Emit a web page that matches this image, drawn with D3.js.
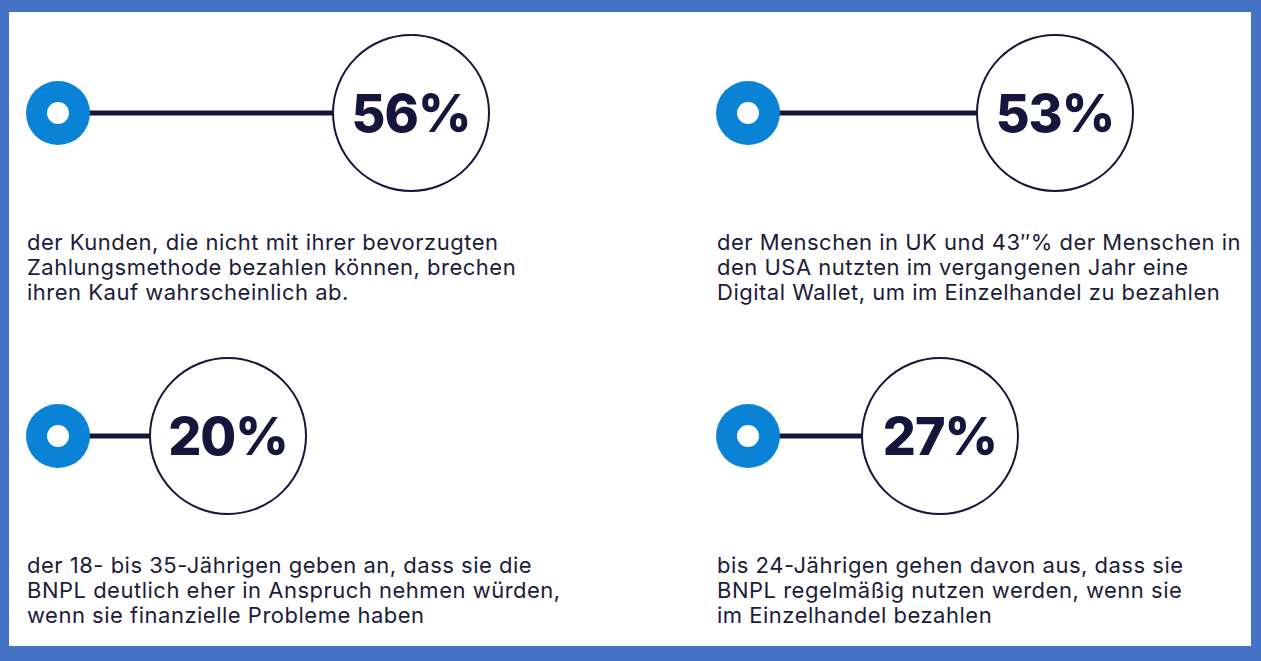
<!DOCTYPE html>
<html>
<head>
<meta charset="utf-8">
<script src="https://cdn.jsdelivr.net/npm/d3@7"></script>
<style>
  html, body { margin: 0; padding: 0; background: #fff; }
  .content { width: 1261px; height: 661px; }
</style>
</head>
<body>
<div class="content"></div>
<script>
// stat values and captions
var values = [56, 53, 20, 27];
var labels = ['56%', '53%', '20%', '27%'];
var captions = [
  ['der Kunden, die nicht mit ihrer bevorzugten', 'Zahlungsmethode bezahlen können, brechen', 'ihren Kauf wahrscheinlich ab.'],
  ['der Menschen in UK und 43″% der Menschen in', 'den USA nutzten im vergangenen Jahr eine', 'Digital Wallet, um im Einzelhandel zu bezahlen'],
  ['der 18- bis 35-Jährigen geben an, dass sie die', 'BNPL deutlich eher in Anspruch nehmen würden,', 'wenn sie finanzielle Probleme haben'],
  ['bis 24-Jährigen gehen davon aus, dass sie', 'BNPL regelmäßig nutzen werden, wenn sie', 'im Einzelhandel bezahlen']
];

var W = 1261, H = 661;
var navy = '#14163c', blue = '#0a82d6';

var svg = d3.select('.content').append('svg')
  .attr('width', W).attr('height', H);

svg.append('rect').attr('width', W).attr('height', H).attr('fill', '#4472c4');
svg.append('rect').attr('x', 9).attr('y', 12).attr('width', W - 19).attr('height', H - 27)
  .attr('fill', '#fff');

// faint background ring
svg.append('clipPath').attr('id', 'inner')
  .append('rect').attr('x', 9).attr('y', 12).attr('width', W - 19).attr('height', H - 27);
var ring = d3.arc().innerRadius(613).outerRadius(928).startAngle(0).endAngle(2 * Math.PI);
svg.append('path').attr('d', ring())
  .attr('transform', 'translate(1500,-250)')
  .attr('fill', '#efeff3')
  .attr('clip-path', 'url(#inner)');

// distance from dot to big circle, by value
var dist = d3.scaleLinear().domain([20, 27, 53, 56]).range([170, 192, 307, 353]);
var colX = d3.scaleOrdinal().domain([0, 1]).range([58, 748]);
var rowY = d3.scaleOrdinal().domain([0, 1]).range([113, 436]);

var g = svg.selectAll('.stat').data(values).enter().append('g')
  .attr('class', 'stat')
  .attr('transform', function(d, i) { return 'translate(' + colX(i % 2) + ',' + rowY(Math.floor(i / 2)) + ')'; });

g.append('line')
  .attr('x1', 0).attr('x2', function(d) { return dist(d); })
  .attr('stroke', navy).attr('stroke-width', 5);
g.append('circle').attr('r', 32).attr('fill', blue);
g.append('circle').attr('r', 11).attr('fill', '#fff');
g.append('circle')
  .attr('cx', function(d) { return dist(d); })
  .attr('r', 78).attr('fill', '#fff')
  .attr('stroke', navy).attr('stroke-width', 2);
g.append('text')
  .attr('x', function(d) { return dist(d); })
  .attr('y', 19)
  .attr('text-anchor', 'middle')
  .attr('font-family', 'Inter, sans-serif')
  .attr('font-weight', 800)
  .attr('font-size', 52)
  .attr('letter-spacing', -1)
  .attr('fill', navy)
  .text(function(d, i) { return labels[i]; });

g.append('text')
  .attr('x', -31)
  .attr('font-family', 'Inter, sans-serif')
  .attr('font-size', 22)
  .attr('letter-spacing', 0.5)
  .attr('fill', '#1c1c38')
  .each(function(d, i) {
    d3.select(this).selectAll('tspan').data(captions[i]).enter().append('tspan')
      .attr('x', -31)
      .attr('y', function(t, j) { return 137 + j * 25; })
      .text(function(t) { return t; });
  });
</script>
</body>
</html>
